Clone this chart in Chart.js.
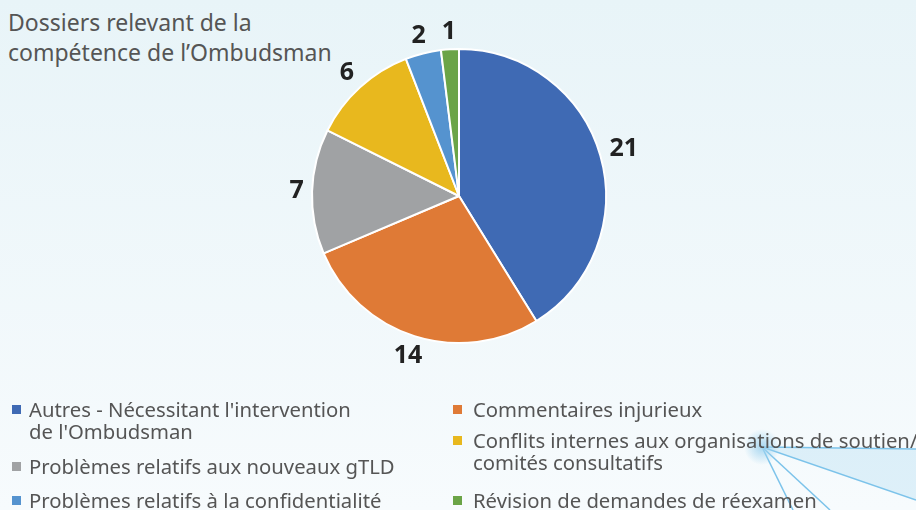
<!DOCTYPE html>
<html lang="fr">
<head>
<meta charset="utf-8">
<script src="https://cdn.jsdelivr.net/npm/chart.js@4.4.1/dist/chart.umd.min.js"></script>
<style>
    body {
        margin: 0;
        width: 916px;
        height: 510px;
        overflow: hidden;
        background: linear-gradient(#e8f4f8, #f7fbfd);
        font-family: "Noto Sans", "Lato", sans-serif;
        position: relative;
    }
    #titre {
        position: absolute;
        left: 8px;
        top: 7px;
        font-size: 23px;
        line-height: 30px;
        color: #555;
    }
    #deco {
        position: absolute;
        left: 0;
        top: 0;
    }
    #zone {
        position: absolute;
        left: 0;
        top: 0;
        width: 916px;
        height: 400px;
    }
    .legende {
        position: absolute;
        font-size: 20.3px;
        line-height: 22px;
        color: #555;
        white-space: nowrap;
    }
    .legende .carre {
        position: absolute;
        left: 0;
        top: 7px;
        width: 9px;
        height: 9px;
    }
    .legende span.txt {
        display: block;
    }
</style>
</head>
<body>
<svg id="deco" width="916" height="510">
    <defs>
        <radialGradient id="halo">
            <stop offset="0" stop-color="#9fd3ef" stop-opacity="0.9"/>
            <stop offset="1" stop-color="#9fd3ef" stop-opacity="0"/>
        </radialGradient>
    </defs>
    <polygon points="762,447 916,449 916,500" fill="#bfe3f5" opacity="0.45"/>
    <g stroke="#7cc3ea" stroke-width="1.5" fill="none">
        <line x1="762" y1="447" x2="916" y2="449"/>
        <line x1="762" y1="447" x2="916" y2="500"/>
        <line x1="762" y1="447" x2="830" y2="510"/>
        <line x1="762" y1="447" x2="793" y2="510"/>
    </g>
    <circle cx="762" cy="447" r="18" fill="url(#halo)"/>
</svg>
<div id="titre">Dossiers relevant de la<br>compétence de l’Ombudsman</div>
<div id="zone"><canvas id="grafico"></canvas></div>
<div id="legende"></div>

<script>
const categories = [
    "Autres - Nécessitant l'intervention de l'Ombudsman",
    "Commentaires injurieux",
    "Problèmes relatifs aux nouveaux gTLD",
    "Conflits internes aux organisations de soutien/ comités consultatifs",
    "Problèmes relatifs à la confidentialité",
    "Révision de demandes de réexamen"
];
const valeurs = [21, 14, 7, 6, 2, 1];
const couleurs = ["#3f6ab4", "#df7a36", "#a0a2a4", "#e8b81e", "#5593cf", "#6ba447"];

// légende en deux colonnes, comme dans le rapport
const lignesLegende = [
    { i: 0, x: 12, y: 398, pad: 17, texte: "Autres - Nécessitant l'intervention<br>de l'Ombudsman" },
    { i: 1, x: 453, y: 398, pad: 20, texte: "Commentaires injurieux" },
    { i: 3, x: 453, y: 429, pad: 20, texte: "Conflits internes aux organisations de soutien/<br>comités consultatifs" },
    { i: 2, x: 12, y: 455, pad: 17, texte: "Problèmes relatifs aux nouveaux gTLD" },
    { i: 4, x: 12, y: 489, pad: 17, texte: "Problèmes relatifs à la confidentialité" },
    { i: 5, x: 453, y: 489, pad: 20, texte: "Révision de demandes de réexamen" }
];

const legende = document.getElementById("legende");
lignesLegende.forEach(l => {
    legende.innerHTML += `
    <div class="legende" style="left:${l.x}px; top:${l.y}px">
        <div class="carre" style="background:${couleurs[l.i]}"></div>
        <span class="txt" style="padding-left:${l.pad}px">${l.texte}</span>
    </div>`;
});

const etiquettes = {
    id: 'etiquettes',
    afterDatasetsDraw(chart) {
        const ctx = chart.ctx;
        const meta = chart.getDatasetMeta(0);
        ctx.save();
        ctx.font = "bold 25px 'Noto Sans', Lato, sans-serif";
        ctx.fillStyle = "#222";
        ctx.textAlign = "center";
        ctx.textBaseline = "middle";
        meta.data.forEach((arc, i) => {
            const p = arc.getProps(['x', 'y', 'startAngle', 'endAngle', 'outerRadius'], true);
            const a = (p.startAngle + p.endAngle) / 2;
            const texte = String(valeurs[i]);
            const w = ctx.measureText(texte).width;
            const h = 18;
            const d = p.outerRadius + 8 + Math.abs(Math.cos(a)) * w / 2 + Math.abs(Math.sin(a)) * h / 2;
            ctx.fillText(texte, p.x + Math.cos(a) * d, p.y + Math.sin(a) * d);
        });
        ctx.restore();
    }
};

new Chart(document.getElementById("grafico"), {
    type: 'pie',
    data: {
        labels: categories,
        datasets: [{
            data: valeurs,
            backgroundColor: couleurs,
            borderColor: '#ffffff',
            borderWidth: 2
        }]
    },
    options: {
        responsive: true,
        maintainAspectRatio: false,
        animation: false,
        layout: {
            padding: { left: 311, right: 309, top: 48, bottom: 56 }
        },
        plugins: {
            legend: { display: false },
            tooltip: { enabled: false }
        }
    },
    plugins: [etiquettes]
});
</script>
</body>
</html>
